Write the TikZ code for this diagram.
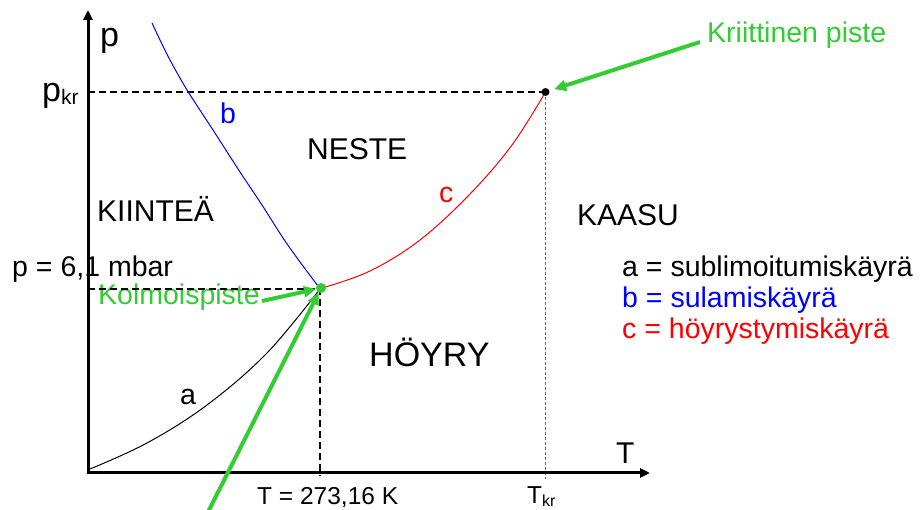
\documentclass[tikz,border=0pt]{standalone}
\usepackage{fontspec}
\setmainfont{Liberation Sans}
\usetikzlibrary{arrows.meta}
\definecolor{grn}{RGB}{51,204,51}
\begin{document}
\begin{tikzpicture}[x=1pt,y=-1pt,
  lbl/.style={anchor=base west, inner sep=0pt},
  big/.style={font=\fontsize{30}{34}\selectfont},
  mid/.style={font=\fontsize{28.5}{32}\selectfont},
  small/.style={font=\fontsize{24.5}{28}\selectfont},
  axisline/.style={line width=3pt, -{Triangle[length=10pt,width=9pt]}},
  guide/.style={line width=1.8pt, dash pattern=on 7pt off 4pt},
  thinguide/.style={line width=1pt, gray!80!black, dash pattern=on 3pt off 2pt},
  curve/.style={line width=1pt},
  pointer/.style={grn, line width=4pt, -{Triangle[length=12pt,width=11pt]}}
]
\useasboundingbox (0,0) rectangle (922,510);

% texts
\node[lbl, font=\fontsize{34}{38}\selectfont] (plab) at (100,47) {p};
\node[lbl, font=\fontsize{34}{38}\selectfont] (pkr) at (42,102) {p\raisebox{-3pt}{\fontsize{21}{24}\selectfont kr}};
\node[lbl, mid] (pmbar) at (12,277) {p = 6,1 mbar};
\node[lbl, big] (neste) at (307,160) {NESTE};
\node[lbl, big] (kiintea) at (97,222) {KIINTEÄ};
\node[lbl, big] (kaasu) at (577,226) {KAASU};
\node[lbl, font=\fontsize{34}{38}\selectfont] (hoyry) at (369,367) {HÖYRY};
\node[lbl, mid, blue] (lb) at (220,124) {b};
\node[lbl, mid, red] (lc) at (439,203) {c};
\node[lbl, mid] (la) at (180,405) {a};
\node[lbl, mid, grn] (kol) at (98,305) {Kolmoispiste};
\node[lbl, mid, grn] (krit) at (707,43) {Kriittinen piste};
\node[lbl, mid] (lega) at (622,277) {a = sublimoitumiskäyrä};
\node[lbl, mid, blue] (legb) at (622,308) {b = sulamiskäyrä};
\node[lbl, mid, red] (legc) at (622,339) {c = höyrystymiskäyrä};
\node[lbl, big] (tlab) at (616,464) {T};
\node[lbl, small] (ttp) at (257,505) {T = 273,16 K};
\node[lbl, small] (tkr) at (527,504) {T\raisebox{-2.5pt}{\fontsize{16}{18}\selectfont kr}};

% coordinates
\coordinate (o) at (88,473);
\coordinate (ytip) at (88,10);
\coordinate (xtip) at (650,473);
\coordinate (pkrL) at (88,92);
\coordinate (tpL) at (88,289);
\coordinate (tpB) at (320,476);
\coordinate (tkrB) at (545.5,479);

% guides
\draw[thinguide] (545.5,92) -- (tkrB);
\draw[guide] (pkrL) -- (545.5,92);
\draw[guide] (tpL) -- (320,289) -- (tpB);

% curves
\draw[curve, black] plot[smooth, tension=0.6] coordinates {(90,469) (147,443) (207,405) (267,353) (320,289)};
\draw[curve, blue] plot[smooth, tension=0.5] coordinates {(152,23) (160,40) (170,60) (187,90) (213,130) (240,172) (262,205) (283,238) (300,262) (318,286)};
\draw[curve, red] plot[smooth, tension=0.6] coordinates {(322,288) (370,271) (420,240) (470,194) (512,145) (545.5,92)};

% axes
\draw[axisline] (88,474.5) -- (ytip);
\draw[axisline] (86.5,473) -- (xtip);

% points
\node[circle, fill=grn, minimum size=10pt, inner sep=0pt] (tp) at (321,288) {};
\node[circle, fill=black, minimum size=8pt, inner sep=0pt] (cp) at (545.5,92) {};

% pointers
\coordinate (kolS) at (262,301);
\coordinate (bigS) at (206,516);
\coordinate (kritS) at (700,42);
\draw[pointer] (kolS) -- (tp);
\draw[pointer] (bigS) -- (tp);
\draw[pointer, shorten >=5pt] (kritS) -- (cp);
\end{tikzpicture}
\end{document}
